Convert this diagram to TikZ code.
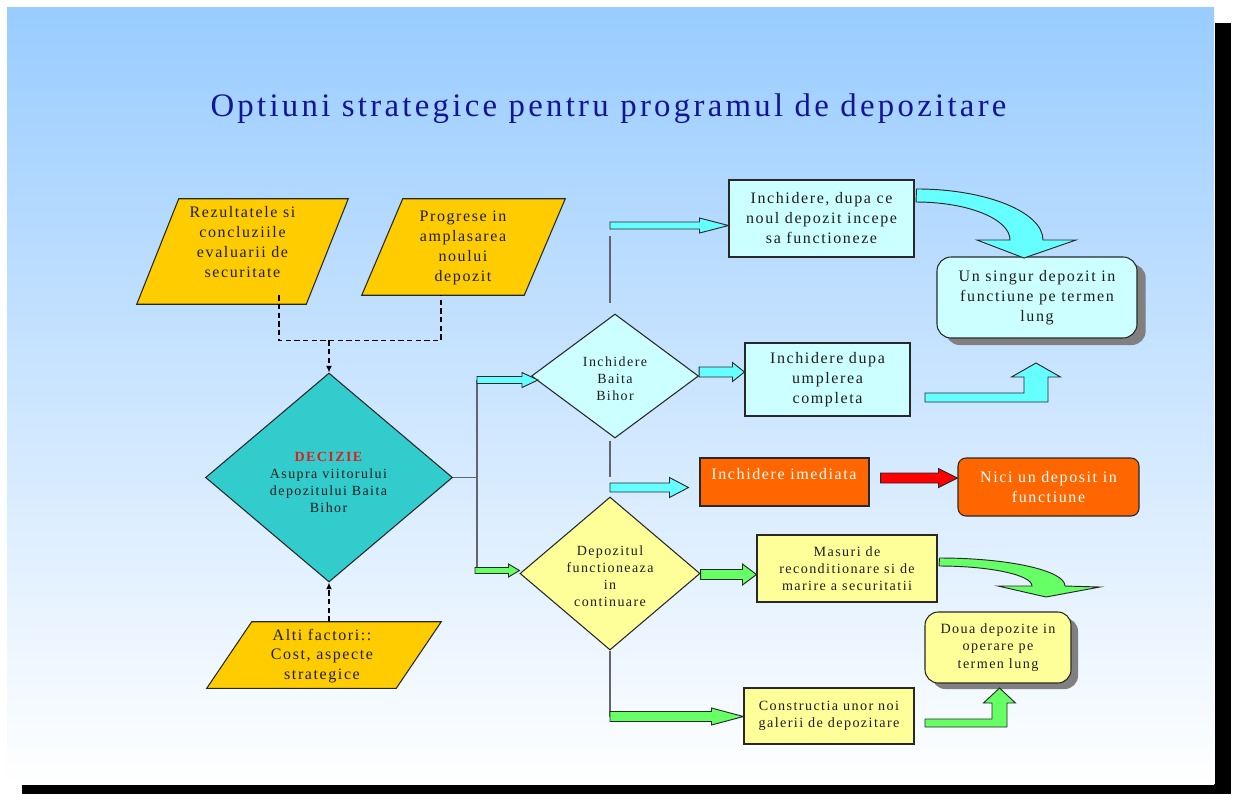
\documentclass[tikz,border=0pt]{standalone}
\usepackage{fontspec}
\setmainfont{Liberation Serif}[LetterSpace=10]
\usetikzlibrary{calc,shapes.geometric,shadows,arrows.meta}
\definecolor{slideblue}{RGB}{153,204,255}
\definecolor{titleblue}{RGB}{20,20,150}
\definecolor{gold}{RGB}{255,204,0}
\definecolor{tealfill}{RGB}{51,204,204}
\definecolor{palecyan}{RGB}{204,255,255}
\definecolor{cyanarr}{RGB}{102,255,255}
\definecolor{paleyellow}{RGB}{255,255,153}
\definecolor{greenarr}{RGB}{102,255,102}
\definecolor{orangebox}{RGB}{255,102,0}
\definecolor{txt}{RGB}{30,30,30}
\definecolor{connline}{RGB}{100,100,110}
\definecolor{shadowgray}{RGB}{128,128,128}
\definecolor{outline}{RGB}{40,40,40}
\definecolor{decred}{RGB}{225,30,30}
% straight horizontal block arrow: style, start, end, shaft half, head half, head length
\newcommand\harrow[6]{%
  \path[#1] ($(#2)+(0,-#4)$) -- ($(#3 |- #2)+(-#6,-#4)$) -- ($(#3 |- #2)+(-#6,-#5)$) -- (#3 |- #2)
    -- ($(#3 |- #2)+(-#6,#5)$) -- ($(#3 |- #2)+(-#6,#4)$) -- ($(#2)+(0,#4)$) -- cycle;}
% elbow block arrow (right then up): style, start, tip, shaft half, vertical half, head half, head length
\newcommand\elbowarrow[7]{%
  \path[#1] ($(#2)+(0,-#4)$) -- ($(#3 |- #2)+(-#5,-#4)$) -- ($(#3)+(-#5,#7)$) -- ($(#3)+(-#6,#7)$) -- (#3)
    -- ($(#3)+(#6,#7)$) -- ($(#3)+(#5,#7)$) -- ($(#3 |- #2)+(#5,#4)$) -- ($(#2)+(0,#4)$) -- cycle;}
\begin{document}
\begin{tikzpicture}[x=0.75pt,y=-0.75pt,
  every node/.style={text=txt, inner sep=0pt},
  t12/.style={font=\fontsize{12}{15}\selectfont, align=center},
  t105/.style={font=\fontsize{10.5}{12.75}\selectfont, align=center},
  t10/.style={font=\fontsize{10.6}{13}\selectfont, align=center},
  para/.style={draw=outline, line width=0.8pt, fill=gold},
  boxline/.style={draw=outline, line width=0.8pt},
  cyanbox/.style={boxline, fill=palecyan},
  yellowbox/.style={boxline, fill=paleyellow},
  orangerect/.style={boxline, fill=orangebox},
  cyanblk/.style={draw=outline, line width=0.7pt, fill=cyanarr},
  greenblk/.style={draw=outline, line width=0.7pt, fill=greenarr},
  redblk/.style={draw=outline, line width=0.7pt, fill=red},
  conn/.style={draw=connline, line width=1.2pt},
  dl/.style={draw=black, line width=1.1pt, dash pattern=on 4pt off 2.5pt},
  dtip/.style={-{Latex[length=5pt,width=4.5pt]}},
  shadowA/.style={drop shadow={shadow xshift=6.5pt, shadow yshift=-5.25pt, fill=shadowgray, opacity=1}},
  shadowB/.style={drop shadow={shadow xshift=5.25pt, shadow yshift=-4.5pt, fill=shadowgray, opacity=1}}
]
\useasboundingbox (0,0) rectangle (1234,794);
\fill[white] (0,0) rectangle (1234,794);
% slide shadow and slide
\fill[black] (1215,23) rectangle (1231,794);
\fill[black] (22,784) rectangle (1231,794);
\shade[top color=slideblue, bottom color=white] (7,7) rectangle (1214,784);

% title
\node[font=\fontsize{24.6}{28}\selectfont, text=titleblue] (title) at (608.5,109)
  {Optiuni strategice pentru programul de depozitare};

% parallelograms (inputs)
\node[minimum width=158.25pt, minimum height=78.75pt] (p1) at (242.5,251.5) {};
\node[minimum width=152.25pt, minimum height=72pt] (p2) at (463.5,247) {};
\node[minimum width=175.5pt, minimum height=49.5pt] (p3) at (324,655) {};
\path[para] ($(p1.north west)+(42,0)$) -- (p1.north east) -- ($(p1.south east)+(-42,0)$) -- (p1.south west) -- cycle;
\path[para] ($(p2.north west)+(41,0)$) -- (p2.north east) -- ($(p2.south east)+(-41,0)$) -- (p2.south west) -- cycle;
\path[para] ($(p3.north west)+(45,0)$) -- (p3.north east) -- ($(p3.south east)+(-45,0)$) -- (p3.south west) -- cycle;

% diamonds
\node[diamond, draw=outline, line width=0.8pt, fill=tealfill, minimum width=185.25pt, minimum height=156.75pt] (dec) at (329,477.5) {};
\node[diamond, draw=outline, line width=0.8pt, fill=palecyan, minimum width=125.25pt, minimum height=93pt] (d2) at (615,376) {};
\node[diamond, draw=outline, line width=0.8pt, fill=paleyellow, minimum width=135pt, minimum height=114.75pt] (d3) at (610,573.5) {};

% boxes
\node[cyanbox, t12, minimum width=138.75pt, minimum height=57.75pt] (bA) at (821.5,218.5)
  {Inchidere, dupa ce\\noul depozit incepe\\sa functioneze};
\node[cyanbox, t12, rounded corners=10.5pt, shadowA, minimum width=150pt, minimum height=60.75pt] (bU) at (1037,297.5)
  {Un singur depozit in\\functiune pe termen\\lung};
\node[cyanbox, t12, minimum width=123.75pt, minimum height=54.75pt] (bB) at (827.5,379.5)
  {Inchidere dupa\\umplerea\\completa};
\node[orangerect, minimum width=126.75pt, minimum height=36pt] (bI) at (784.5,482) {};
\node[orangerect, t12, text=white, rounded corners=6pt, minimum width=135.75pt, minimum height=43.5pt] (bN) at (1048.5,487)
  {Nici un deposit in\\functiune};
\node[yellowbox, t10, minimum width=135pt, minimum height=50.25pt] (bM) at (847,568.5)
  {Masuri de\\reconditionare si de\\marire a securitatii};
\node[yellowbox, t10, rounded corners=10pt, shadowB, minimum width=109.5pt, minimum height=53.25pt] (bD) at (998,647.5)
  {Doua depozite in\\operare pe\\termen lung};
\node[yellowbox, t10, minimum width=127.5pt, minimum height=42pt] (bC) at (829,716)
  {Constructia unor noi\\galerii de depozitare};

% dashed input connectors
\coordinate (dA) at ($(p1.south)+(36.5,-9)$);
\coordinate (dB) at ($(p2.south)+(-22.5,0)$);
\coordinate (jn) at ($(dec.north)+(0,-32)$);
\draw[dl] (dA) |- (jn) -| (dB);
\draw[dl, dtip] (jn) -- (dec.north);
\draw[dl, dtip] (p3.north -| dec.south) -- (dec.south);

% grey connectors
\coordinate (jm) at ($(dec.east)+(25,0)$);
\coordinate (ja) at (477,380);
\coordinate (jb) at (477,570);
\draw[conn] (dec.east) -- (jm);
\draw[conn] (ja) -- (jb);
\coordinate (ta) at (610,225.5);
\coordinate (tb) at (610,236);
\coordinate (tc) at ($(d2.north)+(-5,-10)$);
\draw[conn] (tb) -- (tc);
\coordinate (tdd) at ($(d2.south)+(-5,2)$);
\coordinate (tde) at (610,477);
\draw[conn] (tdd) -- (tde);
\coordinate (jd) at (610,716.5);
\draw[conn] (d3.south) -- (jd);

% block arrows
\coordinate (e1) at ($(d2.west)+(7,0)$);
\harrow{cyanblk}{ja}{e1}{3.5}{7.5}{16}
\coordinate (jb2) at ($(jb)+(-2,0.5)$);
\harrow{greenblk}{jb2}{d3.west}{3}{6.5}{11}
\harrow{cyanblk}{ta}{bA.west}{3.5}{7.5}{29}
\coordinate (s4) at ($(d2.east)+(0,-4)$);
\harrow{cyanblk}{s4}{bB.west}{5}{9.5}{12}
\coordinate (s5) at (610,487.5);
\coordinate (e5) at ($(bI.west)+(-11,0)$);
\harrow{cyanblk}{s5}{e5}{4.5}{10}{19}
\coordinate (s6) at ($(bI.east)+(11,-4)$);
\harrow{redblk}{s6}{bN.west}{5}{9.5}{19}
\coordinate (s7) at ($(d3.east)+(0,1)$);
\harrow{greenblk}{s7}{bM.west}{5}{10.5}{14}
\harrow{greenblk}{jd}{bC.west}{5}{8.5}{32}
\coordinate (s9) at (925,397.5);
\coordinate (t9) at (1036,363);
\elbowarrow{cyanblk}{s9}{t9}{4.5}{12}{24.5}{14}
\coordinate (s10) at (925,723);
\coordinate (t10) at (999.5,688);
\elbowarrow{greenblk}{s10}{t10}{4}{7.5}{16}{15}
% curved block arrows
\coordinate (c1) at ($(bA.north east)+(2,9.5)$);
\path[cyanblk] (c1) .. controls (986,189) and (1043,212) .. (1043,240) -- (1076,240) -- (1024,258)
  -- (977,240) -- (1010,240) .. controls (1010,219) and (968,202) .. (916,202) -- cycle;
\coordinate (c2) at ($(bM.east)+(2,-10.5)$);
\path[greenblk] (c2) .. controls (1008.6,558) and (1065,570.5) .. (1065,586) -- (1100,587) -- (1046,597)
  -- (998,586) -- (1032,586) .. controls (1032,575) and (990.4,566) .. (939,566) -- cycle;

% texts
\node[t12] (p1t) at (242.5,242) {Rezultatele si\\concluziile\\evaluarii de\\securitate};
\node[t12] (p2t) at (463,247.5) {Progrese in\\amplasarea\\noului\\depozit};
\node[t12, font=\fontsize{12}{14.5}\selectfont] (p3t) at (322,656) {Alti factori::\\Cost, aspecte\\strategice};
\node[t105] (dect) at (328.5,482) {{\color{decred}\bfseries DECIZIE}\\Asupra viitorului\\depozitului Baita\\Bihor};
\node[t105] (d2t) at (615,379) {Inchidere\\Baita\\Bihor};
\node[t105] (d3t) at (610,576) {Depozitul\\functioneaza\\in\\continuare};
\node[t12, text=white] (bIt) at (784,474) {Inchidere imediata};
\end{tikzpicture}
\end{document}
